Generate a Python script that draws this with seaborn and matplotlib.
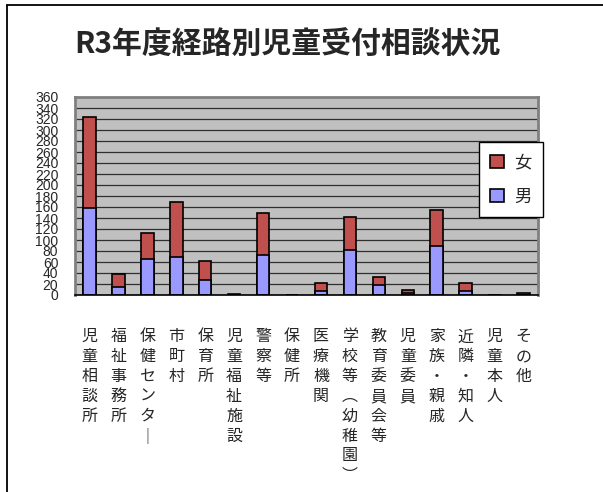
import matplotlib as mpl
import matplotlib.pyplot as plt
import seaborn as sns
import pandas as pd
from matplotlib.lines import Line2D

sns.set_style('white')
plt.rcParams['font.family'] = ['Noto Sans CJK JP', 'DejaVu Sans']

categories = ['児童相談所', '福祉事務所', '保健センター', '市町村', '保育所',
              '児童福祉施設', '警察等', '保健所', '医療機関', '学校等（幼稚園）',
              '教育委員会等', '児童委員', '家族・親戚', '近隣・知人', '児童本人', 'その他']
tick_labels = ['児童相談所', '福祉事務所', '保健センタ｜', '市町村', '保育所',
               '児童福祉施設', '警察等', '保健所', '医療機関', '学校等︵幼稚園︶',
               '教育委員会等', '児童委員', '家族・親戚', '近隣・知人', '児童本人', 'その他']
male = [159, 15, 66, 70, 27, 0, 72, 0, 7, 81, 19, 4, 89, 8, 0, 0]
female = [164, 23, 46, 99, 35, 1, 78, 0, 15, 61, 14, 5, 66, 14, 0, 4]

df = pd.DataFrame({'cat': categories, 'male': male, 'female': female})
df['total'] = df['male'] + df['female']

RED = '#C0504D'
BLUE = '#9999FF'

fig = plt.figure(figsize=(6.03, 4.92), dpi=100)
ax = fig.add_axes([75/603, 1-295/492, 463/603, 198/492])
ax.set_facecolor('#C0C0C0')

sns.barplot(data=df, x='cat', y='total', color=RED, edgecolor='black',
            linewidth=1.2, width=0.43, saturation=1, ax=ax, label='女')
sns.barplot(data=df, x='cat', y='male', color=BLUE, edgecolor='black',
            linewidth=1.2, width=0.43, saturation=1, ax=ax, label='男')

ax.set_ylim(0, 360)
ax.set_xlim(-0.5, len(categories) - 0.5)
ax.set_yticks(range(0, 361, 20))
ax.yaxis.grid(True, color='#303030', linewidth=0.9)
ax.set_axisbelow(True)
ax.tick_params(axis='y', length=0, pad=12, labelsize=10)
for t in ax.get_yticklabels():
    t.set_family(['Liberation Sans', 'DejaVu Sans'])

ax.set_xticks(range(len(categories)))
ax.set_xticklabels(['\n'.join(s) for s in tick_labels], fontsize=11.5,
                   va='top', linespacing=1.22)
ax.tick_params(axis='x', length=0, pad=24)
ax.set_xticks([i + 0.5 for i in range(len(categories) - 1)], minor=True)
ax.tick_params(axis='x', which='minor', direction='in', length=5,
               width=1, color='#333333')
ax.set_xlabel('')
ax.set_ylabel('')

for side in ['top', 'right', 'left']:
    ax.spines[side].set_color('#808080')
    ax.spines[side].set_linewidth(2)
ax.spines['bottom'].set_color('black')
ax.spines['bottom'].set_linewidth(1.2)

leg = ax.legend(loc='upper left', bbox_to_anchor=(404/463, 153/198),
                borderaxespad=0, fontsize=12.5, frameon=True, fancybox=False,
                edgecolor='black', framealpha=1, handlelength=0.8,
                handleheight=0.8, labelspacing=0.95, borderpad=0.65,
                handletextpad=0.6)
leg.get_frame().set_linewidth(1)

fig.text(287/603, 1-45/492, 'R3年度経路別児童受付相談状況', fontsize=21.5,
         fontweight='bold', ha='center', va='center')

fig.add_artist(Line2D([7/603, 1], [1-5/492, 1-5/492], color='black', lw=1.3))
fig.add_artist(Line2D([7/603, 7/603], [0, 1-5/492], color='black', lw=1.3))

fig.savefig('out.png', dpi=100)
